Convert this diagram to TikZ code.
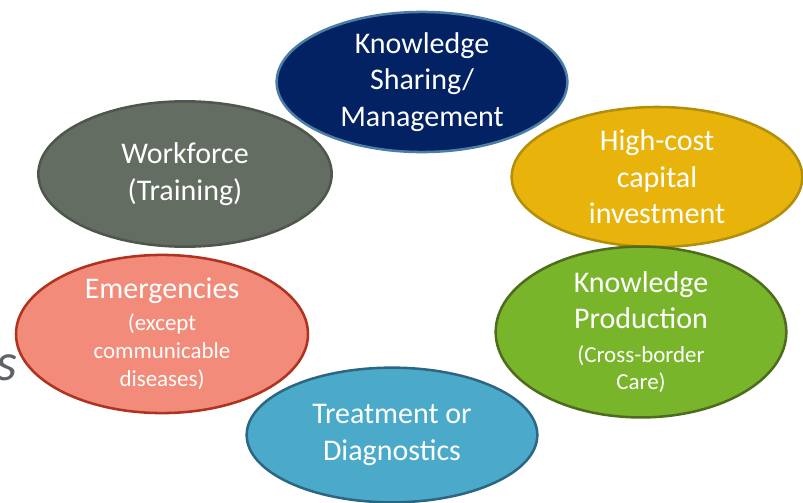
\documentclass[tikz,border=0pt]{standalone}
\usepackage{fontspec}
\setmainfont{Carlito}
\usetikzlibrary{shapes.geometric}
\definecolor{navyfill}{HTML}{022263}
\definecolor{navyline}{HTML}{4A7EA5}
\definecolor{goldfill}{HTML}{E8B40C}
\definecolor{goldline}{HTML}{B38E0A}
\definecolor{greenfill}{HTML}{79B52A}
\definecolor{greenline}{HTML}{4E6C1E}
\definecolor{bluefill}{HTML}{4BAACA}
\definecolor{blueline}{HTML}{2B6684}
\definecolor{salmonfill}{HTML}{F28B79}
\definecolor{salmonline}{HTML}{B0331F}
\definecolor{greyfill}{HTML}{646D62}
\definecolor{greyline}{HTML}{4F574D}
\definecolor{cutgrey}{HTML}{5F6368}
\newcommand{\bigtext}{\fontsize{22.5}{27.4}\selectfont}
\newcommand{\smalltext}{\fontsize{17.2}{21}\selectfont}
\begin{document}
\begin{tikzpicture}[x=0.75pt, y=-0.75pt, bubble/.style={ellipse, draw, line width=1.9pt, text=white, align=center, inner sep=0pt, minimum width=218pt, minimum height=104pt, font=\bigtext}]
            \useasboundingbox (0,0) rectangle (803,503);
            \node[bubble, fill=navyfill, draw=navyline, minimum height=93pt] (ks) at (422,82) {Knowledge\\Sharing/\\Management};
            \node[bubble, fill=goldfill, draw=goldline, minimum height=105pt] (hc) at (657,177) {High-cost\\capital\\investment};
            \node[bubble, fill=greenfill, draw=greenline, minimum height=105pt] (kp) at (641,332) {Knowledge\\Production\\[-2.6pt]{\smalltext (Cross-border}\\[-7pt]{\smalltext Care)}};
            \node[bubble, fill=bluefill, draw=blueline, minimum height=101pt] (td) at (392,435) {Treatment or\\Diagnostics};
            \node[bubble, fill=salmonfill, draw=salmonline, minimum width=219pt, minimum height=105pt] (em) at (162,334) {Emergencies\\[-3.4pt]{\smalltext (except}\\[-6.4pt]{\smalltext communicable}\\[-6.4pt]{\smalltext diseases)}};
            \node[bubble, fill=greyfill, draw=greyline, minimum width=220pt, minimum height=109pt] (wf) at (185,174) {Workforce\\(Training)};
            \node[text=cutgrey, font=\fontsize{40}{48}\selectfont\itshape, anchor=base east, inner sep=0pt] (cut) at (18,380) {s};
        \end{tikzpicture}
\end{document}
